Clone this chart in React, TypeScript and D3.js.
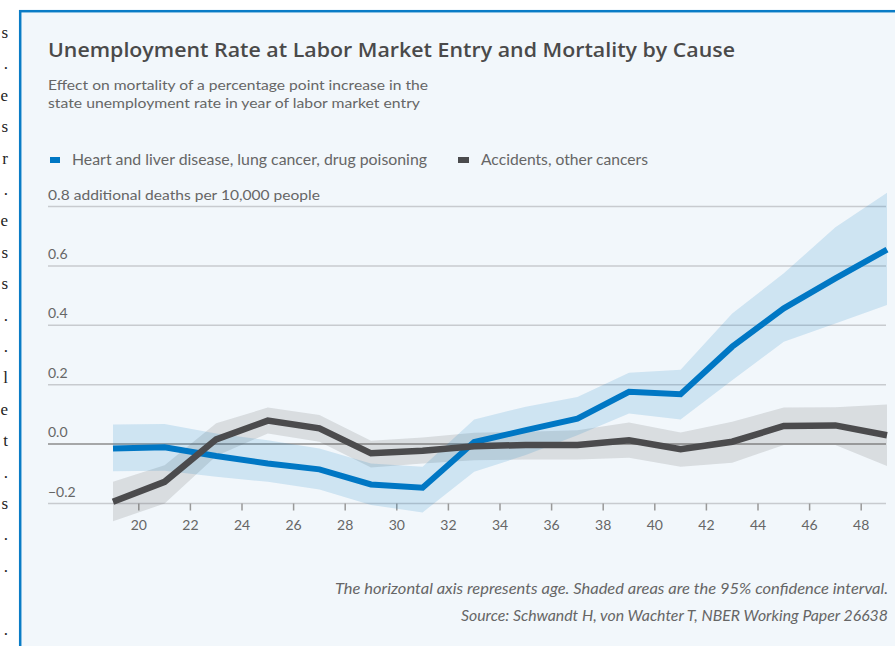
import React from "react";
import * as d3 from "d3";

const ages = [19, 21, 23, 25, 27, 29, 31, 33, 35, 37, 39, 41, 43, 45, 47, 49];
const blueMid = [-0.015, -0.011, -0.04, -0.065, -0.085, -0.136, -0.147, 0.007, 0.047, 0.086, 0.176, 0.168, 0.328, 0.457, 0.558, 0.655];
const blueHi = [0.066, 0.068, 0.036, 0.013, -0.015, -0.065, -0.076, 0.083, 0.126, 0.159, 0.24, 0.25, 0.44, 0.575, 0.73, 0.846];
const blueLo = [-0.091, -0.09, -0.11, -0.127, -0.153, -0.205, -0.23, -0.093, -0.037, 0.03, 0.103, 0.083, 0.215, 0.345, 0.406, 0.468];
const darkMid = [-0.194, -0.127, 0.016, 0.079, 0.053, -0.031, -0.022, -0.007, -0.003, -0.003, 0.013, -0.017, 0.008, 0.061, 0.063, 0.03];
const darkHi = [-0.127, -0.071, 0.07, 0.123, 0.098, 0.011, 0.022, 0.038, 0.042, 0.047, 0.073, 0.039, 0.075, 0.123, 0.124, 0.133];
const darkLo = [-0.26, -0.2, -0.04, 0.036, 0.008, -0.079, -0.065, -0.054, -0.052, -0.052, -0.046, -0.076, -0.063, -0.003, -0.003, -0.074];

const yTicks = [-0.2, 0.0, 0.2, 0.4, 0.6, 0.8];
const xTicks = [20, 22, 24, 26, 28, 30, 32, 34, 36, 38, 40, 42, 44, 46, 48];

const title = "Unemployment Rate at Labor Market Entry and Mortality by Cause";
const subtitle = [
  "Effect on mortality of a percentage point increase in the",
  "state unemployment rate in year of labor market entry",
];
const legendLabels = ["Heart and liver disease, lung cancer, drug poisoning", "Accidents, other cancers"];
const yUnit = " additional deaths per 10,000 people";
const notes = [
  "The horizontal axis represents age. Shaded areas are the 95% confidence interval.",
  "Source: Schwandt H, von Wachter T, NBER Working Paper 26638",
];
const sideChars = ["s", ".", "e", "s", "r", ".", "e", "s", "s", ".", ".", "l", "e", "t", ".", "s", ".", ".", "", "."];

const BLUE = "#0077c4";
const DARK = "#4b4b4d";
const FONT = "Lato, 'Open Sans', sans-serif";

export default function App() {
  const x = d3.scaleLinear().domain([19, 49]).range([113, 887]);
  const y = d3.scaleLinear().domain([-0.2, 0.8]).range([503.5, 206.5]);

  const line = d3
    .line<number>()
    .x((_, i) => x(ages[i]))
    .y((d) => y(d));
  const area = (lo: number[], hi: number[]) =>
    d3
      .area<number>()
      .x((_, i) => x(ages[i]))
      .y0((_, i) => y(lo[i]))
      .y1((_, i) => y(hi[i]))(ages) || "";

  return (
    <svg
      width={895}
      height={646}
      style={{ position: "absolute", left: 0, top: 0, display: "block" }}
    >
      <rect x={0} y={0} width={895} height={646} fill="#ffffff" />
      {sideChars.map((c, i) => (
        <text
          key={i}
          x={8}
          y={38 + i * 31.4}
          textAnchor="end"
          fontFamily="'Liberation Serif', 'DejaVu Serif', serif"
          fontSize={17}
          fill="#222"
        >
          {c}
        </text>
      ))}
      <rect x={20.2} y={11.2} width={900} height={660} fill="#f2f7fb" stroke="#0a7cc6" strokeWidth={2.5} />

      <text x={48} y={57} fontFamily="'Open Sans', Lato, sans-serif" fontWeight={600} fontSize={20} fill="#4a4a4a" textLength={687} lengthAdjust="spacingAndGlyphs">
        {title}
      </text>
      {subtitle.map((s, i) => (
        <text key={i} x={48} y={90 + i * 18} fontFamily={FONT} fontSize={14} fill="#666" textLength={i === 0 ? 380 : 372} lengthAdjust="spacingAndGlyphs">
          {s}
        </text>
      ))}

      <rect x={50} y={157} width={10} height={6} fill={BLUE} />
      <text x={72} y={165} fontFamily={FONT} fontSize={15} fill="#666" textLength={355} lengthAdjust="spacingAndGlyphs">
        {legendLabels[0]}
      </text>
      <rect x={458} y={157} width={11} height={6} fill={DARK} />
      <text x={481} y={165} fontFamily={FONT} fontSize={15} fill="#666" textLength={167} lengthAdjust="spacingAndGlyphs">
        {legendLabels[1]}
      </text>

      {yTicks.map((t) => (
        <g key={t}>
          <line
            x1={48}
            x2={886}
            y1={y(t)}
            y2={y(t)}
            stroke={t === 0 ? "#8c8c8c" : "#c8cbcf"}
            strokeWidth={1.5}
          />
          <text
            x={48}
            y={y(t) - 7}
            fontFamily={FONT}
            fontSize={14}
            fill="#666"
            textLength={t === 0.8 ? 272 : undefined}
            lengthAdjust="spacingAndGlyphs"
          >
            {(t < 0 ? "\u2212" + Math.abs(t).toFixed(1) : t.toFixed(1)) + (t === 0.8 ? yUnit : "")}
          </text>
        </g>
      ))}

      {xTicks.map((t) => (
        <g key={t}>
          <line x1={x(t)} x2={x(t)} y1={y(-0.2)} y2={y(-0.2) + 7} stroke="#999" strokeWidth={1.5} />
          <text x={x(t)} y={530} textAnchor="middle" fontFamily={FONT} fontSize={14} fill="#666">
            {t}
          </text>
        </g>
      ))}

      <path d={area(darkLo, darkHi)} fill="#4d4d4d" fillOpacity={0.15} />
      <path d={area(blueLo, blueHi)} fill="#0079c1" fillOpacity={0.15} />
      <path d={line(blueMid) || ""} fill="none" stroke={BLUE} strokeWidth={6} strokeLinejoin="miter" />
      <path d={line(darkMid) || ""} fill="none" stroke={DARK} strokeWidth={6.5} strokeLinejoin="miter" />

      {notes.map((n, i) => (
        <text
          key={i}
          x={888}
          y={594 + i * 27}
          textAnchor="end"
          fontFamily={FONT}
          fontStyle="italic"
          fontSize={14.5}
          fill="#666"
          textLength={i === 0 ? 553 : 427}
          lengthAdjust="spacingAndGlyphs"
        >
          {n}
        </text>
      ))}
    </svg>
  );
}
